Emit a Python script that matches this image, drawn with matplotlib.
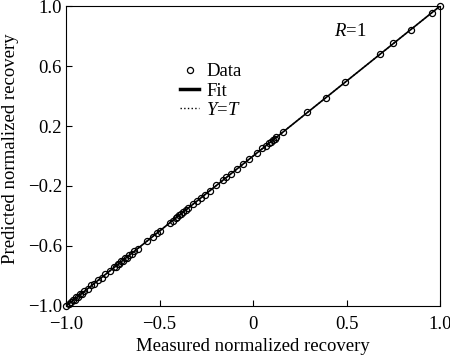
import numpy as np
import matplotlib
matplotlib.use("Agg")
import matplotlib.pyplot as plt
from matplotlib.lines import Line2D

plt.rcParams["font.family"] = ["Liberation Serif", "DejaVu Serif"]
plt.rcParams["mathtext.fontset"] = "custom"
plt.rcParams["mathtext.it"] = "Liberation Serif:italic"
plt.rcParams["mathtext.rm"] = "Liberation Serif"

# measured vs predicted normalized recovery
measured = [
    -1.0, -0.985, -0.975, -0.965, -0.955, -0.945, -0.935, -0.925, -0.915, -0.905,
    -0.884, -0.865, -0.85, -0.83, -0.81, -0.79, -0.768, -0.745, -0.735, -0.725,
    -0.715, -0.705, -0.695, -0.685, -0.675, -0.665, -0.65, -0.635, -0.616, -0.57,
    -0.536, -0.515, -0.5, -0.446, -0.43, -0.415, -0.405, -0.395, -0.385, -0.375,
    -0.36, -0.35, -0.32, -0.30, -0.277, -0.259, -0.232, -0.196, -0.16, -0.143,
    -0.116, -0.086, -0.054, -0.023, 0.02, 0.05, 0.07, 0.085, 0.095, 0.105,
    0.115, 0.125, 0.16, 0.29, 0.39, 0.49, 0.679, 0.75, 0.845, 0.955, 1.0,
]
predicted = [
    -1.0, -0.988, -0.972, -0.962, -0.957, -0.943, -0.937, -0.922, -0.917, -0.903,
    -0.886, -0.862, -0.852, -0.828, -0.812, -0.788, -0.77, -0.743, -0.737, -0.722,
    -0.717, -0.703, -0.697, -0.683, -0.677, -0.663, -0.652, -0.633, -0.618, -0.568,
    -0.538, -0.513, -0.502, -0.444, -0.432, -0.413, -0.407, -0.393, -0.387, -0.373,
    -0.362, -0.348, -0.322, -0.298, -0.279, -0.257, -0.234, -0.194, -0.162, -0.141,
    -0.118, -0.084, -0.056, -0.021, 0.018, 0.052, 0.068, 0.087, 0.093, 0.107,
    0.113, 0.127, 0.158, 0.292, 0.388, 0.492, 0.677, 0.752, 0.843, 0.957, 1.0,
]
fit_x = [-1.0, 1.0]
fit_y = [-1.0, 1.0]

FS = 13.5

fig = plt.figure(figsize=(4.5, 3.57), dpi=100)
ax = fig.add_axes([0.147, 0.143, 0.831, 0.840])

ax.plot(fit_x, fit_y, ":", color="black", linewidth=1.0)
ax.plot(fit_x, fit_y, "-", color="black", linewidth=1.2)
ax.plot(measured, predicted, "o", markerfacecolor="none", markeredgecolor="black",
        markersize=4.4, markeredgewidth=0.9, clip_on=False)

ax.set_xlim(-1.0, 1.0)
ax.set_ylim(-1.0, 1.0)
ax.set_xticks([-1.0, -0.5, 0, 0.5, 1.0])
ax.set_xticklabels(["\u22121.0", "\u22120.5", "0", "0.5", "1.0"])
ax.set_yticks([-1.0, -0.6, -0.2, 0.2, 0.6, 1.0])
ax.set_yticklabels(["\u22121.0", "\u22120.6", "\u22120.2", "0.2", "0.6", "1.0"])
ax.tick_params(direction="in", length=4, labelsize=FS)
ax.tick_params(axis="x", pad=7)
ax.tick_params(axis="y", pad=3)
ax.set_xlabel("Measured normalized recovery", fontsize=FS, labelpad=4)
ax.set_ylabel("Predicted normalized recovery", fontsize=FS)
ax.yaxis.set_label_coords(-0.127, 0.523)

legend_handles = [
    Line2D([], [], linestyle="none", marker="o", markerfacecolor="none",
           markeredgecolor="black", markersize=4.4, markeredgewidth=0.9),
    Line2D([], [], linestyle="-", color="black", linewidth=2.5),
    Line2D([], [], linestyle=":", color="black", linewidth=1.0),
]
ax.legend(legend_handles, ["Data", "Fit", "$Y$=$T$"],
          loc="upper left", bbox_to_anchor=(0.305, 0.81), frameon=False,
          fontsize=FS, handlelength=1.0, handletextpad=0.4,
          labelspacing=0.12, borderpad=0, borderaxespad=0)

ax.text(0.715, 0.915, "$R$=1", transform=ax.transAxes, fontsize=FS, va="center")

fig.savefig("out.png", dpi=100)
